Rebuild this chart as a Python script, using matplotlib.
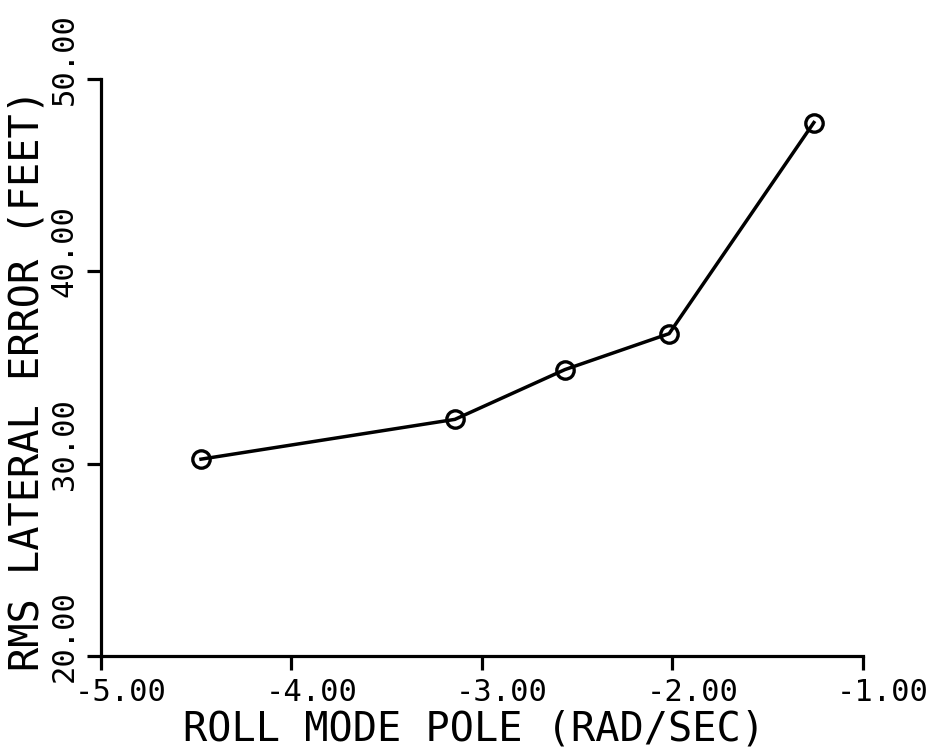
import matplotlib
matplotlib.use("Agg")
import matplotlib.pyplot as plt
import matplotlib.transforms as mtransforms

# roll mode pole vs rms lateral error
roll_pole = [-4.475, -3.142, -2.564, -2.017, -1.257]
rms_error = [30.23, 32.30, 34.89, 36.76, 47.74]

x_ticks = [-5.0, -4.0, -3.0, -2.0, -1.0]
y_ticks = [20.0, 30.0, 40.0, 50.0]
x_ticklabels = ["-5.00", "-4.00", "-3.00", "-2.00", "-1.00"]
y_ticklabels = ["20.00", "30.00", "40.00", "50.00"]

plt.rcParams['font.family'] = ['DejaVu Sans Mono']

fig = plt.figure(figsize=(9.44, 7.53), dpi=100)
ax = fig.add_axes([0.107, 0.129, 0.807, 0.766])

ax.plot(roll_pole, rms_error, color="black", linewidth=2.5,
        marker="o", markersize=12.5, markerfacecolor="none",
        markeredgewidth=2.4, markeredgecolor="black")

ax.set_xlim(-5, -1)
ax.set_ylim(20, 50)

for side in ["top", "right"]:
    ax.spines[side].set_visible(False)
for side in ["left", "bottom"]:
    ax.spines[side].set_linewidth(2.3)

ax.set_xticks(x_ticks)
ax.set_yticks(y_ticks)
ax.set_xticklabels(x_ticklabels, fontsize=22)
ax.set_yticklabels(y_ticklabels, fontsize=22, rotation=90, va="center")
ax.tick_params(direction="out", length=10, width=2.3, pad=6)

# the plotter offset its labels a little along the reading direction
shift_x = mtransforms.ScaledTranslation(0.20, 0, fig.dpi_scale_trans)
for lab in ax.get_xticklabels():
    lab.set_transform(lab.get_transform() + shift_x)
shift_y = mtransforms.ScaledTranslation(0, 0.20, fig.dpi_scale_trans)
for lab in ax.get_yticklabels():
    lab.set_transform(lab.get_transform() + shift_y)

ax.set_xlabel("ROLL MODE POLE (RAD/SEC)", fontsize=29)
ax.set_ylabel("RMS LATERAL ERROR (FEET)", fontsize=29)
ax.xaxis.set_label_coords(0.49, -0.093)
ax.yaxis.set_label_coords(-0.07, 0.478)

fig.savefig("out.png", dpi=100)
